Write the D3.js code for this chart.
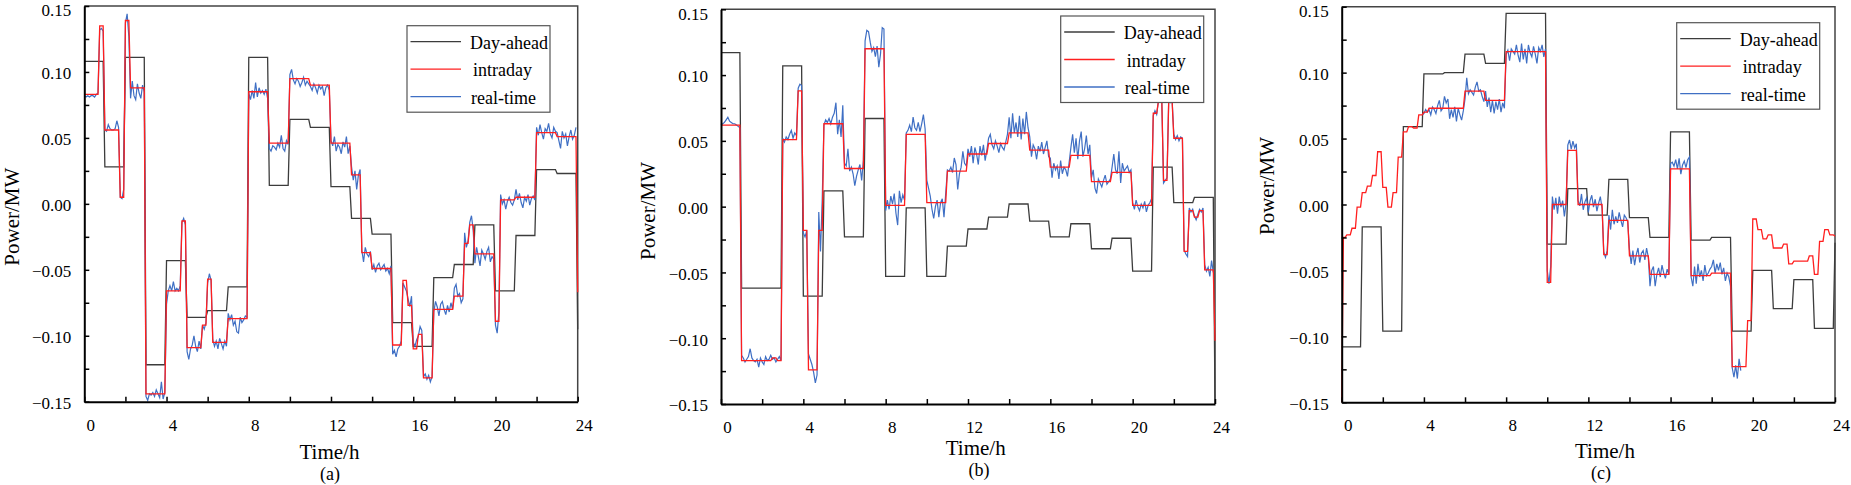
<!DOCTYPE html>
<html lang="en">
<head>
<meta charset="utf-8">
<title>Day-ahead / intraday / real-time power</title>
<script src="https://cdn.jsdelivr.net/npm/d3@7/dist/d3.min.js"></script>
<style>
  body { margin: 0; background: #fff; }
  svg text { font-family: "Liberation Serif", "Times New Roman", serif; fill: #000; }
</style>
</head>
<body>
<script>
// all power values below are in 1e-3 MW

// day-ahead: one value per hour, plus the last point at 24 h
var dayAheadA = [108,28,111,-122,-43,-86,-81,-63,111,14,64,58,13,-11,-23,-90,-108,-56,-46,-16,-66,-24,26,23];
var dayAheadEndA = -95;
var dayAheadB = [117,-62,-62,107,-68,12,-23,67,-53,-1,-53,-30,-17,-8,2,-11,-23,-13,-32,-24,-49,30,3,7];
var dayAheadEndB = -150;
var dayAheadC = [-108,-17,-96,59,99,100,114,107,145,145,-30,12,-8,19,-10,-25,55,-27,-25,-96,-50,-79,-57,-94];
var dayAheadEndC = -29;

// intraday: one value per 15 min (96)
var intradayA = [83,83,83,135,56,56,56,5,139,88,88,88,
  -144,-144,-144,-144,-66,-66,-66,-13,-109,-109,-109,-92,
  -57,-105,-105,-105,-87,-87,-87,-87,85,85,85,85,
  46,46,46,46,95,95,95,95,90,90,90,90,
  46,46,46,46,22,22,-37,-37,-49,-49,-49,-49,
  -107,-107,-58,-77,-110,-99,-132,-132,-80,-80,-80,-80,
  -70,-70,-30,-16,-38,-38,-38,-38,-89,3,3,3,
  5,5,5,5,54,54,54,54,51,51,51,51];
var intradayEndA = -67;
var intradayB = [62,62,62,62,-117,-117,-117,-117,-117,-117,-115,-117,
  51,51,51,88,-18,-124,-124,-18,63,63,63,63,
  29,29,29,29,120,120,120,120,1,1,1,1,
  55,55,55,55,3,3,3,3,27,27,27,27,
  40,40,40,40,48,48,48,48,56,56,56,56,
  43,43,43,43,30,30,30,30,39,39,39,39,
  19,19,19,19,26,26,26,26,1,1,1,1,
  71,80,20,80,52,52,-34,-3,-8,-3,-48,-48];
var intradayEndB = -102;
var intradayC = [-25,-23,-18,-2,9,14,22,40,13,-2,9,36,
  55,59,58,68,70,73,73,73,73,73,73,73,
  86,86,86,86,79,79,79,79,116,116,116,116,
  116,116,116,116,-59,0,0,0,41,41,0,0,
  0,0,0,-38,-12,-12,-12,-12,-39,-39,-39,-39,
  -53,-53,-53,-53,27,27,27,27,-54,-54,-54,-54,
  -52,-52,-52,-52,-123,-123,-123,-88,-11,-19,-26,-23,
  -33,-33,-30,-45,-43,-43,-43,-39,-53,-28,-19,-23];
var intradayStartC = -150;
var intradayEndC = -24;

// real-time: one value per 5 min, starting at sample index realTimeStart*
var realTimeStartA = 0;
var realTimeA = [82,81,82,81,82,82,81,83, 84,132,133,131, 56,55,60,57,56,56,57,63,58, 5,4,11, 137,144,127,
  80,93,82,79,91,84,80,90,85,
  -146,-149,-144,-145,-143,-146,-141,-144,-147,-135,-148,-143,
  -76,-66,-62,-66,-59,-66,-64,-66,-62, -14,-11,-16,
  -112,-118,-110,-107,-100,-108,-112,-104,-110, -92,-95,-90, -60,-53,-58,
  -103,-108,-104,-110,-102,-106,-110,-104,-108,
  -83,-88,-84,-92,-89,-97,-98,-86,-90,-88,-85,-86,
  84,79,86,80,92,81,88,84,86,83,87,80,
  42,40,44,43,41,46,43,52,42,40,48,45,
  98,102,94,91,95,93,89,92,96,90,93,91,
  89,86,91,88,84,90,87,89,82,88,90,86,
  48,44,51,40,45,43,38,47,43,51,38,44,
  28,18,25,11,22,26, -35,-44,-33,-38,-40,-36,
  -50,-46,-52,-47,-45,-50,-48,-46,-51,-49,-53,-47,
  -114,-111,-116,-110,-108,-104, -60,-63,-66, -72,-78,-70, -105,-108,-103, -100,-93,-96,
  -131,-129,-133,-130,-135,-131,
  -82,-74,-78,-85,-76,-74,-80,-84,-77,-82,-75,-80,
  -64,-61,-70,-68,-75,-72, -22,-33,-28, -14,-9,-20,
  -45,-33,-40,-47,-35,-38,-42,-36,-33,-44,-40,-42,
  -92,-98,-82, 7,0,3,-4,2,5,1,-1,3,
  11,3,8,1,-3,5,2,7,-1,4,6,3,
  58,52,60,54,49,57,55,61,53,50,58,55,
  54,48,42,55,50,53,44,51,56,49,52,58];
var realTimeStartB = 0;
var realTimeB = [62,63,64,66,68,65,64,63,63,62,61,60,
  -113,-115,-118,-116,-114,-108,-115,-117,-118,-116,-122,-115,
  -118,-120,-114,-117,-116,-113,-116,-115,-118,-116,-114,-117,
  52,49,53,51,55,58,52,56,54, 90,93,92, -20,-23,-18,
  -112,-116,-120,-126,-134,-128, -4,-34,5,
  62,66,64,67,63,68,71,79,55,66,53,77,
  33,31,44,27,30,25,16,23,28,32,20,35,
  126,134,133,125,118,121,114,122,106,116,136,135,
  -3,5,-2,8,2,10,-5,-14,12,3,9,5,
  56,58,62,57,68,60,58,64,57,63,70,59,
  20,14,8,-2,-9,0,5,-8,3,6,-8,10,
  28,27,30,26,37,32,13,25,30,42,33,31,
  44,38,46,33,45,40,32,46,39,47,35,43,
  52,55,47,44,50,46,41,48,45,43,49,55,
  68,52,71,56,64,53,69,51,67,55,72,60,
  53,38,47,44,36,46,42,49,40,45,50,38,
  37,22,33,28,31,21,35,25,30,28,23,34,
  45,55,41,52,36,50,57,38,44,54,40,47,
  22,28,14,10,21,18,15,20,24,17,19,21,
  30,40,28,25,42,18,33,27,29,31,26,28,
  3,-2,5,0,-3,2,-1,4,-4,1,3,6,
  69,73,70, 80,81,79, 18,20,22, 80,79,81,
  55,51,54,50,53,52, -33,-36,-38, -1,-4,-2, -7,-10,-6, -2,-4,-1,
  -44,-49,-46,-53,-41,-50];
var realTimeStartC = 47;
var realTimeC = [68,
  69,72,70,72,68,74,72,69,75,79,71,73,
  82,77,80,65,72,66,74,63,73,68,64,71,
  80,96,84,87,85,83,89,93,86,87,82,78,
  86,74,81,70,79,69,78,72,80,70,77,73,
  114,117,109,118,116,114,121,113,108,122,110,118,
  107,121,115,112,120,114,107,119,116,121,112,118,
  -50,-60,-47, 6,-4,5,-7,6,-2,3,-9,1,
  45,49,42,48,43,46,
  3,-1,8,-4,2,5,-6,3,7,-2,4,-5,1,6,-3,
  -36,-40,-35,
  -8,-19,-4,-15,-9,-14,-6,-12,-17,-8,-10,-13,
  -34,-45,-35,-46,-38,-33,-44,-37,-35,-42,-33,-40,
  -62,-50,-47,-62,-53,-48,-55,-46,-52,-56,-49,-53,
  31,32,29,34,27,35,23,30,33,28,34,36,
  -55,-62,-47,-60,-45,-55,-50,-58,-46,-54,-52,-49,
  -47,-42,-52,-45,-50,-44,-53,-48,-58,-52,-55,-62,
  -124,-131,-122,-132,-117,-126];

var seriesNames = ["Day-ahead", "intraday", "real-time"];
var xTicks = d3.range(0, 25, 2);          // labelled every 4 h
var yTicks = d3.range(-6, 7).map(function(k) { return k * 0.025; }); // labelled every 0.05
var captions = ["(a)", "(b)", "(c)"];

// layout of the three panels (pixels)
var layout = [
  { left: 84.3, right: 577.7, top: 6, bottom: 401.7, yLab: [11.7, 216.7], xLab: [329.5, 459], cap: [330, 480], leg: [407, 25.7] },
  { left: 721, right: 1215, top: 9.3, bottom: 404, yLab: [648.3, 211], xLab: [975.7, 455], cap: [979, 476], leg: [1060.7, 16] },
  { left: 1341.7, right: 1835, top: 6.7, bottom: 402.3, yLab: [1266.7, 186], xLab: [1605, 458], cap: [1601, 479], leg: [1676.7, 22.7] }
];

var panels = [
  { da: dayAheadA, daEnd: dayAheadEndA, id: intradayA, idStart: null, idEnd: intradayEndA, rt: realTimeA, rtStart: realTimeStartA },
  { da: dayAheadB, daEnd: dayAheadEndB, id: intradayB, idStart: null, idEnd: intradayEndB, rt: realTimeB, rtStart: realTimeStartB },
  { da: dayAheadC, daEnd: dayAheadEndC, id: intradayC, idStart: intradayStartC, idEnd: intradayEndC, rt: realTimeC, rtStart: realTimeStartC }
];

var colors = { da: "#3c3c3c", id: "#ff1f1f", rt: "#3f6fc4" };

// a held value per slot; the change to the next slot takes one 5-min sample
function stepPoints(values, slot, endVal, startVal) {
  var pts = [];
  values.forEach(function(v, k) {
    pts.push([k * slot, v], [(k + 1) * slot - 1 / 12, v]);
  });
  if (startVal != null) { pts[0][0] = 1 / 12; pts.unshift([0, startVal]); }
  if (endVal != null) pts.push([24, endVal]);
  return pts;
}

var svg = d3.select("body").append("svg")
  .attr("width", 1851).attr("height", 485);

var yFmt = d3.format(".2f");

panels.forEach(function(p, n) {
  var L = layout[n];
  var x = d3.scaleLinear().domain([0, 24]).range([L.left, L.right]);
  var y = d3.scaleLinear().domain([-0.15, 0.15]).range([L.bottom, L.top]);
  var g = svg.append("g");

  var line = d3.line()
    .defined(function(d) { return d[1] != null; })
    .x(function(d) { return x(d[0]); })
    .y(function(d) { return y(d[1] / 1000); });

  // frame (top / right)
  g.append("path")
    .attr("d", "M" + L.left + "," + L.top + "H" + L.right + "V" + L.bottom)
    .attr("fill", "none").attr("stroke", "#444").attr("stroke-width", 1.5);

  g.append("path").datum(stepPoints(p.da, 1, p.daEnd, null))
    .attr("d", line).attr("fill", "none")
    .attr("stroke", colors.da).attr("stroke-width", 1.3);

  g.append("path").datum(p.rt.map(function(v, i) { return [(p.rtStart + i) / 12, v]; }))
    .attr("d", line).attr("fill", "none")
    .attr("stroke", colors.rt).attr("stroke-width", 1.2);

  g.append("path").datum(stepPoints(p.id, 0.25, p.idEnd, p.idStart))
    .attr("d", line).attr("fill", "none")
    .attr("stroke", colors.id).attr("stroke-width", 1.3);

  // axes, ticks inward
  var xAxis = g.append("g")
    .attr("transform", "translate(0," + L.bottom + ")")
    .call(d3.axisBottom(x).tickValues(xTicks).tickSizeInner(-5).tickSizeOuter(0).tickPadding(17)
      .tickFormat(function(d) { return d % 4 === 0 ? d : ""; }));
  xAxis.selectAll("text").attr("dx", 6).style("font-size", "17px");

  var yAxis = g.append("g")
    .attr("transform", "translate(" + L.left + ",0)")
    .call(d3.axisLeft(y).tickValues(yTicks).tickSizeInner(-5).tickSizeOuter(0).tickPadding(13)
      .tickFormat(function(d, i) { return i % 2 === 0 ? yFmt(d) : ""; }));
  yAxis.selectAll("text")
    .attr("dy", function(d, i) { return i === yTicks.length - 1 ? "0.58em" : "0.4em"; })
    .style("font-size", "17px");

  [xAxis, yAxis].forEach(function(a) {
    a.select(".domain").attr("stroke", "#000").attr("stroke-width", 2);
    a.selectAll(".tick line").attr("stroke", "#000").attr("stroke-width", 1.5);
    a.selectAll("text").style("font-family", "'Liberation Serif', 'Times New Roman', serif");
  });

  g.append("text")
    .attr("transform", "translate(" + L.yLab[0] + "," + L.yLab[1] + ") rotate(-90)")
    .attr("text-anchor", "middle").attr("dominant-baseline", "central")
    .style("font-size", "21px").text("Power/MW");

  g.append("text").attr("x", L.xLab[0]).attr("y", L.xLab[1])
    .attr("text-anchor", "middle").style("font-size", "21px").text("Time/h");

  g.append("text").attr("x", L.cap[0]).attr("y", L.cap[1])
    .attr("text-anchor", "middle").style("font-size", "18px").text(captions[n]);

  // legend
  var leg = g.append("g").attr("transform", "translate(" + L.leg[0] + "," + L.leg[1] + ")");
  leg.append("rect").attr("width", 143).attr("height", 86.5)
    .attr("fill", "#fff").attr("stroke", "#555").attr("stroke-width", 1.2);
  var legCols = [colors.da, colors.id, colors.rt];
  var legDx = [0, 3, 1];
  seriesNames.forEach(function(name, i) {
    var ly = 16 + i * 27.5;
    leg.append("line").attr("x1", 3.5).attr("x2", 54).attr("y1", ly).attr("y2", ly)
      .attr("stroke", legCols[i]).attr("stroke-width", 1.3);
    leg.append("text").attr("x", 63 + legDx[i]).attr("y", ly + 7)
      .style("font-size", "18px").text(name);
  });
});
</script>
</body>
</html>
